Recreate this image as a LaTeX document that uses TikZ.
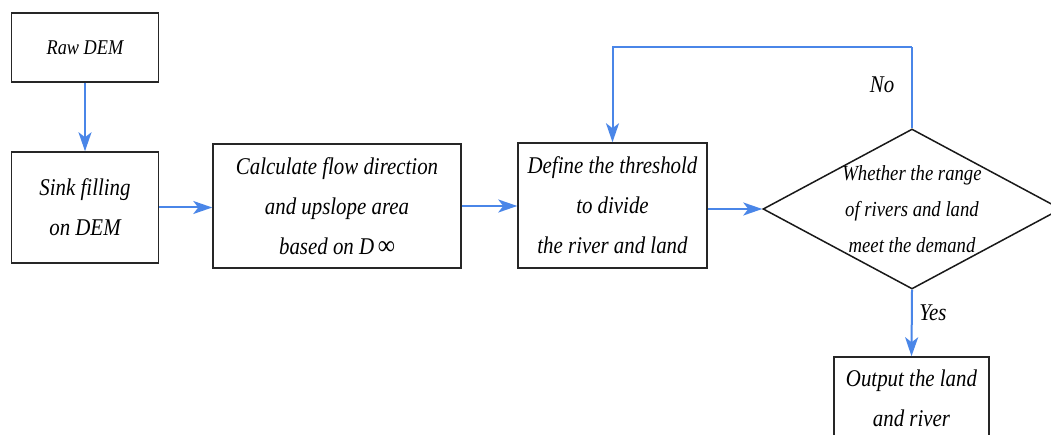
\documentclass[tikz,border=0pt]{standalone}
\usepackage{fontspec}
\setmainfont{Liberation Serif}[FakeStretch=0.87]
\usetikzlibrary{arrows.meta,shapes.geometric}
\definecolor{flowblue}{RGB}{74,134,232}
\tikzset{
  box/.style={draw=black!85, line width=1.5pt, inner sep=0pt, align=center,
    font=\fontsize{24}{40}\selectfont\itshape},
  lbl/.style={inner sep=0pt, font=\fontsize{24}{40}\selectfont\itshape},
  flow/.style={draw=flowblue, line width=2pt, -{Stealth[length=19pt,width=13pt,inset=5pt]}},
  link/.style={draw=flowblue, line width=2pt}
}
\begin{document}
\begin{tikzpicture}[x=1pt,y=-1pt]
\useasboundingbox (0,0) rectangle (1051,435);
\clip (0,0) rectangle (1051,435);
\fill[white] (0,0) rectangle (1051,435);
\node[box, minimum width=147pt, minimum height=69pt, font=\fontsize{21}{36}\selectfont\itshape] (raw) at (85,47.5) {Raw DEM};
\node[box, minimum width=147pt, minimum height=111pt] (sink) at (85,207.5) {Sink filling\\ on DEM};
\node[box, minimum width=248pt, minimum height=124pt] (calc) at (337,206) {Calculate flow direction\\and upslope area\\based on D\,{\fontsize{27}{40}\selectfont ∞}};
\node[box, minimum width=189pt, minimum height=125pt] (define) at (612.5,205.5) {Define the threshold\\to divide\\the river and land};
\node[draw=black!90, line width=1.5pt, diamond, inner sep=0pt, minimum width=298pt, minimum height=160pt] (dia) at (912,209) {};
\node[lbl, align=center, font=\fontsize{21.5}{36}\selectfont\itshape] (diatext) at (dia.center) {Whether the range\\of rivers and land\\meet the demand};
\node[box, minimum width=155pt, minimum height=82pt] (out) at (911.5,398) {Output the land\\and river};
\coordinate (fbtop) at (912,47);
\node[lbl] (no) at (882,85) {No};
\node[lbl] (yes) at (933,313) {Yes};
\draw[flow] (raw.south) -- (sink.north);
\draw[flow] (sink.east) -- (sink.east -| calc.west);
\draw[flow] (calc.east) -- (calc.east -| define.west);
\draw[flow] (define.east |- dia.west) -- (dia.west);
\draw[link] (dia.north) -- (fbtop);
\draw[flow] (fbtop) -| (define.north);
\draw[flow] (dia.south) -- (out.north);
\end{tikzpicture}
\end{document}
